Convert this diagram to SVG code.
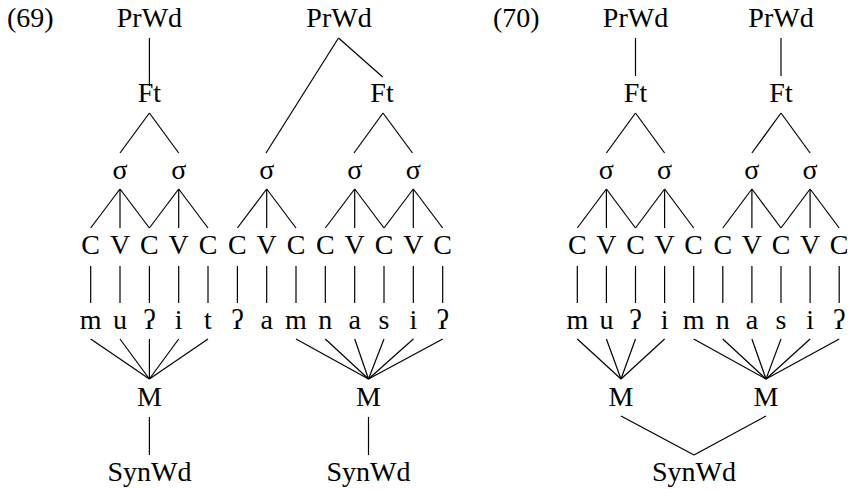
<svg xmlns="http://www.w3.org/2000/svg" width="850" height="489" viewBox="0 0 850 489" font-family="Liberation Serif, serif" font-size="28">
<style>
text{fill:#000;text-anchor:middle}
.lbl{text-anchor:start}
#edges line{stroke:#000;stroke-width:1.2;fill:none}
</style>
<rect width="850" height="489" fill="#fff"/>
<g id="edges">
<line x1="149.4" y1="38" x2="149.4" y2="86"/>
<line x1="149.4" y1="113" x2="120" y2="153"/>
<line x1="149.4" y1="113" x2="178.7" y2="153"/>
<line x1="120" y1="189" x2="90.7" y2="228"/>
<line x1="120" y1="189" x2="120" y2="228"/>
<line x1="120" y1="189" x2="149.4" y2="228"/>
<line x1="178.7" y1="189" x2="149.4" y2="228"/>
<line x1="178.7" y1="189" x2="178.7" y2="228"/>
<line x1="178.7" y1="189" x2="208" y2="228"/>
<line x1="338.5" y1="38" x2="266" y2="153"/>
<line x1="338.5" y1="38" x2="382.7" y2="77"/>
<line x1="383" y1="113" x2="354" y2="153"/>
<line x1="383" y1="113" x2="412.5" y2="153"/>
<line x1="266.7" y1="189" x2="237.4" y2="228"/>
<line x1="266.7" y1="189" x2="266.7" y2="228"/>
<line x1="266.7" y1="189" x2="296" y2="228"/>
<line x1="354.7" y1="189" x2="325.3" y2="228"/>
<line x1="354.7" y1="189" x2="354.7" y2="228"/>
<line x1="354.7" y1="189" x2="384" y2="228"/>
<line x1="413.3" y1="189" x2="384" y2="228"/>
<line x1="413.3" y1="189" x2="413.3" y2="228"/>
<line x1="413.3" y1="189" x2="442.7" y2="228"/>
<line x1="90.7" y1="266" x2="90.7" y2="303"/>
<line x1="120" y1="266" x2="120" y2="303"/>
<line x1="149.4" y1="266" x2="149.4" y2="303"/>
<line x1="178.7" y1="266" x2="178.7" y2="303"/>
<line x1="208" y1="266" x2="208" y2="303"/>
<line x1="237.4" y1="266" x2="237.4" y2="303"/>
<line x1="266.7" y1="266" x2="266.7" y2="303"/>
<line x1="296" y1="266" x2="296" y2="303"/>
<line x1="325.3" y1="266" x2="325.3" y2="303"/>
<line x1="354.7" y1="266" x2="354.7" y2="303"/>
<line x1="384" y1="266" x2="384" y2="303"/>
<line x1="413.3" y1="266" x2="413.3" y2="303"/>
<line x1="442.7" y1="266" x2="442.7" y2="303"/>
<line x1="90.7" y1="339" x2="149.4" y2="379"/>
<line x1="120" y1="339" x2="149.4" y2="379"/>
<line x1="149.4" y1="339" x2="149.4" y2="379"/>
<line x1="178.7" y1="339" x2="149.4" y2="379"/>
<line x1="208" y1="339" x2="149.4" y2="379"/>
<line x1="296" y1="339" x2="368.5" y2="379"/>
<line x1="325.3" y1="339" x2="368.5" y2="379"/>
<line x1="354.7" y1="339" x2="368.5" y2="379"/>
<line x1="384" y1="339" x2="368.5" y2="379"/>
<line x1="413.3" y1="339" x2="368.5" y2="379"/>
<line x1="442.7" y1="339" x2="368.5" y2="379"/>
<line x1="149.4" y1="417" x2="149.4" y2="455"/>
<line x1="368.5" y1="417" x2="368.5" y2="455"/>
<line x1="635.5" y1="38" x2="635.5" y2="76"/>
<line x1="781" y1="38" x2="781" y2="76"/>
<line x1="635.5" y1="113" x2="606.4" y2="153"/>
<line x1="635.5" y1="113" x2="664.6" y2="153"/>
<line x1="781" y1="113" x2="751.9" y2="153"/>
<line x1="781" y1="113" x2="810.1" y2="153"/>
<line x1="606.4" y1="189" x2="577.3" y2="228"/>
<line x1="606.4" y1="189" x2="606.4" y2="228"/>
<line x1="606.4" y1="189" x2="635.5" y2="228"/>
<line x1="664.6" y1="189" x2="635.5" y2="228"/>
<line x1="664.6" y1="189" x2="664.6" y2="228"/>
<line x1="664.6" y1="189" x2="693.7" y2="228"/>
<line x1="751.9" y1="189" x2="722.8" y2="228"/>
<line x1="751.9" y1="189" x2="751.9" y2="228"/>
<line x1="751.9" y1="189" x2="781" y2="228"/>
<line x1="810.1" y1="189" x2="781" y2="228"/>
<line x1="810.1" y1="189" x2="810.1" y2="228"/>
<line x1="810.1" y1="189" x2="839.2" y2="228"/>
<line x1="577.3" y1="266" x2="577.3" y2="303"/>
<line x1="606.4" y1="266" x2="606.4" y2="303"/>
<line x1="635.5" y1="266" x2="635.5" y2="303"/>
<line x1="664.6" y1="266" x2="664.6" y2="303"/>
<line x1="693.7" y1="266" x2="693.7" y2="303"/>
<line x1="722.8" y1="266" x2="722.8" y2="303"/>
<line x1="751.9" y1="266" x2="751.9" y2="303"/>
<line x1="781" y1="266" x2="781" y2="303"/>
<line x1="810.1" y1="266" x2="810.1" y2="303"/>
<line x1="839.2" y1="266" x2="839.2" y2="303"/>
<line x1="577.3" y1="339" x2="621" y2="379"/>
<line x1="606.4" y1="339" x2="621" y2="379"/>
<line x1="635.5" y1="339" x2="621" y2="379"/>
<line x1="664.6" y1="339" x2="621" y2="379"/>
<line x1="693.7" y1="339" x2="766" y2="379"/>
<line x1="722.8" y1="339" x2="766" y2="379"/>
<line x1="751.9" y1="339" x2="766" y2="379"/>
<line x1="781" y1="339" x2="766" y2="379"/>
<line x1="810.1" y1="339" x2="766" y2="379"/>
<line x1="839.2" y1="339" x2="766" y2="379"/>
<line x1="621" y1="416" x2="694" y2="455"/>
<line x1="766" y1="416" x2="694" y2="455"/>
</g>
<g id="label69"><text class="lbl" x="7" y="27">(69)</text></g>
<g id="label70"><text class="lbl" x="493" y="27">(70)</text></g>
<g id="a-prwd1"><text x="149.4" y="27">PrWd</text></g>
<g id="a-prwd2"><text x="339" y="27">PrWd</text></g>
<g id="a-ft1"><text x="149.4" y="102">Ft</text></g>
<g id="a-ft2"><text x="382" y="102">Ft</text></g>
<g id="a-s1"><text x="120" y="179">σ</text></g>
<g id="a-s2"><text x="178.7" y="179">σ</text></g>
<g id="a-s3"><text x="266.7" y="179">σ</text></g>
<g id="a-s4"><text x="354.7" y="179">σ</text></g>
<g id="a-s5"><text x="413.3" y="179">σ</text></g>
<g id="a-cv">
<text x="90.7" y="254">C</text><text x="120" y="254">V</text><text x="149.4" y="254">C</text><text x="178.7" y="254">V</text><text x="208" y="254">C</text><text x="237.4" y="254">C</text><text x="266.7" y="254">V</text><text x="296" y="254">C</text><text x="325.3" y="254">C</text><text x="354.7" y="254">V</text><text x="384" y="254">C</text><text x="413.3" y="254">V</text><text x="442.7" y="254">C</text>
</g>
<g id="a-seg">
<text x="90.7" y="329">m</text><text x="120" y="329">u</text><text x="149.4" y="329">ʔ</text><text x="178.7" y="329">i</text><text x="208" y="329">t</text><text x="237.4" y="329">ʔ</text><text x="266.7" y="329">a</text><text x="296" y="329">m</text><text x="325.3" y="329">n</text><text x="354.7" y="329">a</text><text x="384" y="329">s</text><text x="413.3" y="329">i</text><text x="442.7" y="329">ʔ</text>
</g>
<g id="a-m1"><text x="149.4" y="406">M</text></g>
<g id="a-m2"><text x="368.5" y="406">M</text></g>
<g id="a-syn1"><text x="149.4" y="481">SynWd</text></g>
<g id="a-syn2"><text x="368.5" y="481">SynWd</text></g>
<g id="b-prwd1"><text x="635.5" y="27">PrWd</text></g>
<g id="b-prwd2"><text x="781" y="27">PrWd</text></g>
<g id="b-ft1"><text x="635.5" y="102">Ft</text></g>
<g id="b-ft2"><text x="781" y="102">Ft</text></g>
<g id="b-s1"><text x="606.4" y="179">σ</text></g>
<g id="b-s2"><text x="664.6" y="179">σ</text></g>
<g id="b-s3"><text x="751.9" y="179">σ</text></g>
<g id="b-s4"><text x="810.1" y="179">σ</text></g>
<g id="b-cv">
<text x="577.3" y="254">C</text><text x="606.4" y="254">V</text><text x="635.5" y="254">C</text><text x="664.6" y="254">V</text><text x="693.7" y="254">C</text><text x="722.8" y="254">C</text><text x="751.9" y="254">V</text><text x="781" y="254">C</text><text x="810.1" y="254">V</text><text x="839.2" y="254">C</text>
</g>
<g id="b-seg">
<text x="577.3" y="329">m</text><text x="606.4" y="329">u</text><text x="635.5" y="329">ʔ</text><text x="664.6" y="329">i</text><text x="693.7" y="329">m</text><text x="722.8" y="329">n</text><text x="751.9" y="329">a</text><text x="781" y="329">s</text><text x="810.1" y="329">i</text><text x="839.2" y="329">ʔ</text>
</g>
<g id="b-m1"><text x="621" y="406">M</text></g>
<g id="b-m2"><text x="766" y="406">M</text></g>
<g id="b-syn"><text x="694" y="481">SynWd</text></g>
</svg>
